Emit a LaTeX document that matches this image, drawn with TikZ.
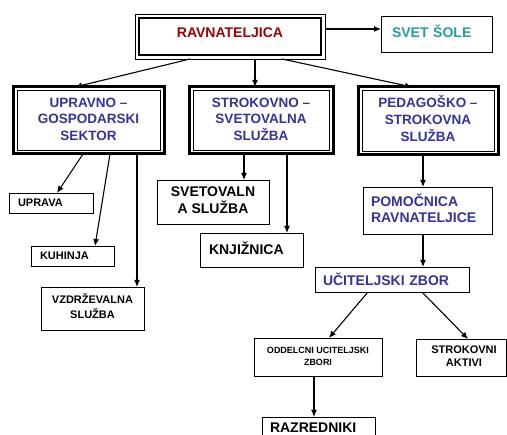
\documentclass[tikz,border=0pt]{standalone}
\usepackage{fontspec}
\setmainfont{Liberation Sans}
\usetikzlibrary{arrows.meta,calc}
\definecolor{tred}{RGB}{153,0,0}
\definecolor{tteal}{RGB}{32,160,160}
\definecolor{tblue}{RGB}{51,51,153}
\begin{document}
\begin{tikzpicture}[x=1pt,y=-1pt,
  box/.style={draw, rectangle, line width=0.8pt, inner sep=0pt, outer sep=0pt, font=\bfseries},
  heavy/.style={box, line width=3pt},
  f14/.style={font=\bfseries\fontsize{14}{16.5}\selectfont},
  f11/.style={font=\bfseries\fontsize{11}{15}\selectfont},
  f9/.style={font=\bfseries\fontsize{9}{12}\selectfont},
  arr/.style={-{Latex[length=7pt,width=6pt]}, line width=1.1pt},
  innerline/.style={line width=0.6pt}]
\useasboundingbox (0,0) rectangle (507,435);
\fill[white] (0,0) rectangle (507,435);
\clip (0,0) rectangle (507,435);

% top
\node[box, f14, text=tred, minimum width=190pt, minimum height=45pt] (rav) at (230,36.5)
  {\raisebox{7pt}{RAVNATELJICA}};
\draw[line width=2pt] ([xshift=4pt,yshift=-4pt]rav.north west) rectangle ([xshift=-4pt,yshift=4pt]rav.south east);
\node[box, f14, text=tteal, minimum height=36pt, text width=89pt, inner xsep=11pt, align=left] (svet) at (436.5,34)
  {\raisebox{5pt}{SVET ŠOLE}};

% sectors
\node[heavy, f14, text=tblue, minimum width=151pt, minimum height=67pt] (up) at (88.5,120.5)
  {\fontsize{13.5}{16.5}\selectfont\raisebox{3.5pt}{\begin{tabular}{@{}c@{}}UPRAVNO –\\GOSPODARSKI\\SEKTOR\end{tabular}}};
\node[heavy, f14, text=tblue, minimum width=144pt, minimum height=67pt] (str) at (261,120.5)
  {\fontsize{13.5}{16.5}\selectfont\raisebox{2.5pt}{\begin{tabular}{@{}c@{}}STROKOVNO –\\SVETOVALNA\\SLUŽBA\end{tabular}}};
\node[heavy, f14, text=tblue, minimum width=140pt, minimum height=68pt] (ped) at (428,121)
  {\fontsize{13.5}{16.5}\selectfont\raisebox{3pt}{\begin{tabular}{@{}c@{}}PEDAGOŠKO –\\STROKOVNA\\SLUŽBA\end{tabular}}};
\foreach \n in {up,str,ped}
  \draw[innerline] ([xshift=3.8pt,yshift=-3.8pt]\n.north west) rectangle ([xshift=-3.8pt,yshift=3.8pt]\n.south east);

% left column
\node[box, f11, minimum height=20pt, text width=66pt, inner xsep=9pt, align=left] (uprava) at (51,203) {UPRAVA};
\node[box, f11, minimum height=20pt, text width=65pt, inner xsep=9pt, align=left] (kuh) at (72.5,256) {KUHINJA};
\node[box, f11, minimum width=103pt, minimum height=43pt] (vzd) at (92.5,308.5)
  {\raisebox{3pt}{\begin{tabular}{@{}c@{}}VZDRŽEVALNA\\SLUŽBA\end{tabular}}};

% middle column
\node[box, f14, minimum width=112pt, minimum height=44pt] (svetov) at (213,202)
  {\fontsize{14}{16}\selectfont\raisebox{1pt}{\begin{tabular}{@{}c@{}}SVETOVALN\\A SLUŽBA\end{tabular}}};
\node[box, f14, minimum height=34pt, text width=85pt, inner xsep=9pt, align=left] (knj) at (251.5,250)
  {\raisebox{3pt}{KNJIŽNICA}};

% right column
\node[box, f14, text=tblue, minimum height=47pt, text width=113pt, inner xsep=8pt, align=left] (pom) at (427.5,210.5)
  {\fontsize{14}{16}\selectfont\raisebox{3.5pt}{\begin{tabular}{@{}l@{}}POMOČNICA\\RAVNATELJICE\end{tabular}}};
\node[box, f14, text=tblue, minimum height=25pt, text width=138pt, inner xsep=8pt, align=left] (uci) at (392,279.5)
  {UČITELJSKI ZBOR};
\node[box, f9, minimum width=128pt, minimum height=38pt] (odd) at (318,357)
  {\raisebox{3pt}{\begin{tabular}{@{}c@{}}ODDELCNI UCITELJSKI\\ZBORI\end{tabular}}};
\node[box, f11, minimum width=90pt, minimum height=37pt] (akt) at (461,357.5)
  {\fontsize{11}{13}\selectfont\hspace*{6pt}\raisebox{1pt}{\begin{tabular}{@{}c@{}}STROKOVNI\\AKTIVI\end{tabular}}};
\node[box, f14, minimum height=24pt, text width=97pt, inner xsep=8pt, align=left] (raz) at (318.5,429)
  {\raisebox{2pt}{RAZREDNIKI}};

% connectors
\draw[arr] ([yshift=7.5pt]rav.east) -- ([yshift=5pt]svet.west);
\draw[arr] ([xshift=55pt]rav.south west) -- ([xshift=62pt]up.north west);
\draw[arr] ([xshift=120pt]rav.south west) -- ([xshift=66pt]str.north west);
\draw[arr] ([xshift=147pt]rav.south west) -- ([xshift=54pt]ped.north west);

\draw[arr] ([xshift=70pt]up.south west) -- ([xshift=48pt]uprava.north west);
\draw[arr] ([xshift=97pt]up.south west) -- ([xshift=64pt]kuh.north west);
\draw[arr] ([xshift=124pt]up.south west) -- ([xshift=96pt]vzd.north west);

\draw[arr] ([xshift=55pt]str.south west) -- ([xshift=87pt]svetov.north west);
\draw[arr] ([xshift=98pt]str.south west) -- ([xshift=87pt]knj.north west);

\draw[arr] ([xshift=65pt]ped.south west) -- ([xshift=60pt]pom.north west);
\draw[arr] ([xshift=60pt]pom.south west) -- ([xshift=108pt]uci.north west);
\draw[arr] ([xshift=53pt]uci.south west) -- ([xshift=75pt]odd.north west);
\draw[arr] ([xshift=107pt]uci.south west) -- ([xshift=52pt]akt.north west);
\draw[arr] ([xshift=60pt]odd.south west) -- ([xshift=52pt]raz.north west);
\end{tikzpicture}
\end{document}
